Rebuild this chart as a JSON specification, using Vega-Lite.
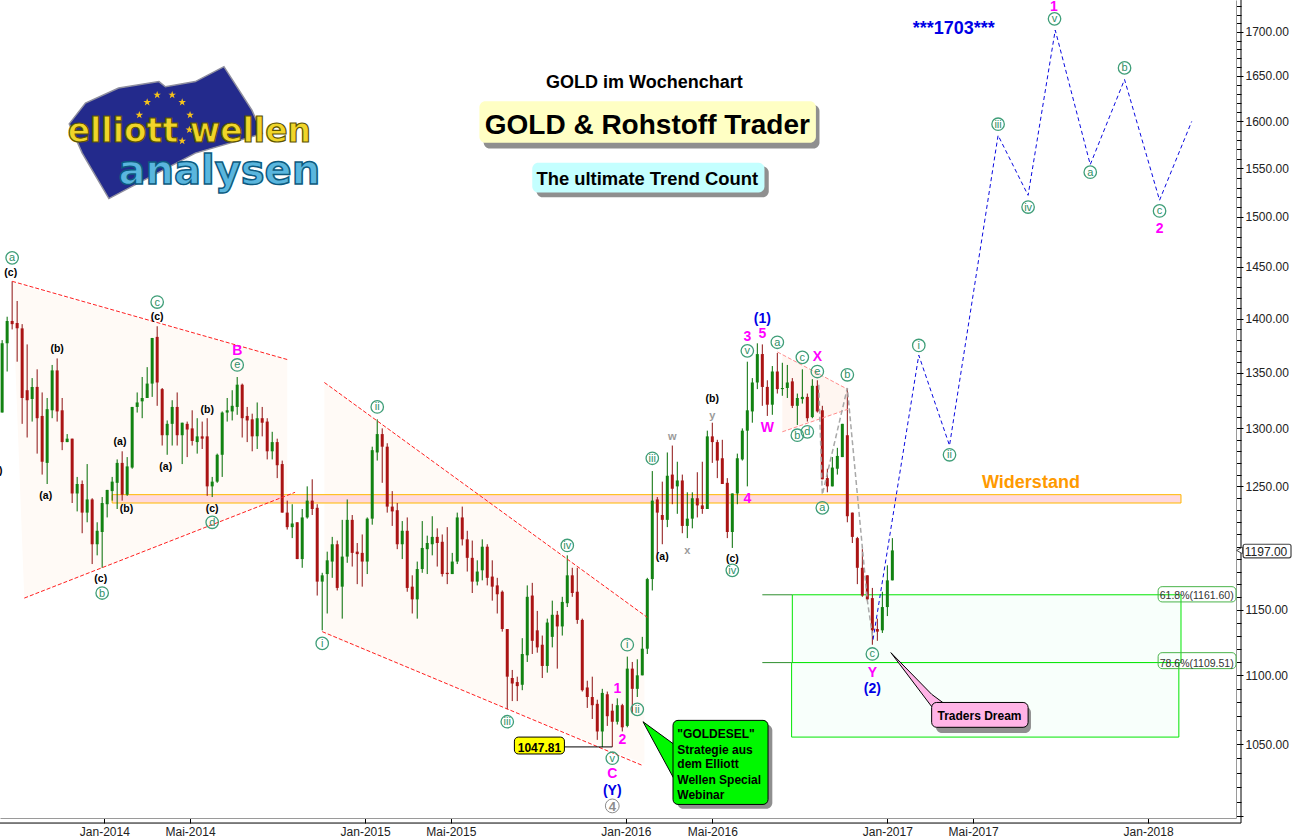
{"$schema":"https://vega.github.io/schema/vega-lite/v6.json","width":1236,"height":818,"autosize":{"type":"none"},"padding":{"left":0,"right":56,"top":0,"bottom":21},"background":"white","config":{"view":{"stroke":null},"font":"Liberation Sans","text":{"font":"Liberation Sans","align":"center","baseline":"middle","dy":1.5}},
"datasets":{"candles":[
{"d":"2013-08-11","o":1314,"h":1380,"l":1314,"c":1377},{"d":"2013-08-18","o":1377,"h":1402,"l":1351,"c":1398},{"d":"2013-08-25","o":1398,"h":1436,"l":1390,"c":1395},{"d":"2013-09-01","o":1396,"h":1417,"l":1360,"c":1391},{"d":"2013-09-08","o":1391,"h":1395,"l":1304,"c":1327},{"d":"2013-09-15","o":1334,"h":1376,"l":1292,"c":1325},{"d":"2013-09-22","o":1326,"h":1345,"l":1306,"c":1337},{"d":"2013-09-29","o":1337,"h":1353,"l":1278,"c":1309},{"d":"2013-10-06","o":1311,"h":1332,"l":1260,"c":1271},{"d":"2013-10-13","o":1270,"h":1327,"l":1252,"c":1317},{"d":"2013-10-20","o":1316,"h":1357,"l":1309,"c":1352},{"d":"2013-10-27","o":1352,"h":1363,"l":1306,"c":1315},{"d":"2013-11-03","o":1316,"h":1327,"l":1281,"c":1288},{"d":"2013-11-10","o":1288,"h":1295,"l":1288,"c":1291},{"d":"2013-11-17","o":1291,"h":1291,"l":1236,"c":1244},{"d":"2013-11-24","o":1244,"h":1258,"l":1229,"c":1252},{"d":"2013-12-01","o":1252,"h":1255,"l":1211,"c":1228},{"d":"2013-12-08","o":1228,"h":1269,"l":1220,"c":1239},{"d":"2013-12-15","o":1239,"h":1240,"l":1186,"c":1202},{"d":"2013-12-22","o":1202,"h":1220,"l":1193,"c":1213},{"d":"2013-12-29","o":1212,"h":1241,"l":1183,"c":1236},
{"d":"2014-01-05","o":1235,"h":1247,"l":1224,"c":1247},{"d":"2014-01-12","o":1246,"h":1258,"l":1238,"c":1254},{"d":"2014-01-19","o":1253,"h":1273,"l":1231,"c":1270},{"d":"2014-01-26","o":1270,"h":1280,"l":1238,"c":1243},{"d":"2014-02-02","o":1243,"h":1275,"l":1242,"c":1267},{"d":"2014-02-09","o":1266,"h":1319,"l":1265,"c":1319},{"d":"2014-02-16","o":1319,"h":1332,"l":1314,"c":1323},{"d":"2014-02-23","o":1324,"h":1346,"l":1309,"c":1327},{"d":"2014-03-02","o":1327,"h":1355,"l":1327,"c":1340},{"d":"2014-03-09","o":1340,"h":1382,"l":1328,"c":1382},{"d":"2014-03-16","o":1383,"h":1393,"l":1320,"c":1341},{"d":"2014-03-23","o":1335,"h":1336,"l":1285,"c":1294},{"d":"2014-03-30","o":1294,"h":1307,"l":1277,"c":1304},{"d":"2014-04-06","o":1304,"h":1325,"l":1285,"c":1319},{"d":"2014-04-13","o":1319,"h":1332,"l":1285,"c":1294},{"d":"2014-04-20","o":1294,"h":1305,"l":1269,"c":1305},{"d":"2014-04-27","o":1304,"h":1306,"l":1275,"c":1299},{"d":"2014-05-04","o":1300,"h":1316,"l":1285,"c":1289},{"d":"2014-05-11","o":1288,"h":1309,"l":1278,"c":1293},{"d":"2014-05-18","o":1293,"h":1306,"l":1282,"c":1291},{"d":"2014-05-25","o":1293,"h":1309,"l":1242,"c":1250},{"d":"2014-06-01","o":1250,"h":1258,"l":1241,"c":1254},{"d":"2014-06-08","o":1254,"h":1278,"l":1253,"c":1277},{"d":"2014-06-15","o":1277,"h":1315,"l":1258,"c":1314},{"d":"2014-06-22","o":1314,"h":1327,"l":1306,"c":1316},{"d":"2014-06-29","o":1315,"h":1334,"l":1307,"c":1320},{"d":"2014-07-06","o":1319,"h":1346,"l":1312,"c":1339},{"d":"2014-07-13","o":1339,"h":1340,"l":1292,"c":1309},{"d":"2014-07-20","o":1311,"h":1319,"l":1288,"c":1307},{"d":"2014-07-27","o":1308,"h":1313,"l":1280,"c":1293},{"d":"2014-08-03","o":1293,"h":1323,"l":1282,"c":1309},{"d":"2014-08-10","o":1309,"h":1319,"l":1293,"c":1305},{"d":"2014-08-17","o":1306,"h":1309,"l":1273,"c":1280},{"d":"2014-08-24","o":1280,"h":1297,"l":1273,"c":1288},{"d":"2014-08-31","o":1288,"h":1291,"l":1257,"c":1268},{"d":"2014-09-07","o":1269,"h":1272,"l":1228,"c":1228},{"d":"2014-09-14","o":1228,"h":1238,"l":1214,"c":1216},{"d":"2014-09-21","o":1216,"h":1235,"l":1207,"c":1219},{"d":"2014-09-28","o":1220,"h":1220,"l":1190,"c":1190},{"d":"2014-10-05","o":1190,"h":1231,"l":1183,"c":1224},{"d":"2014-10-12","o":1224,"h":1250,"l":1223,"c":1238},{"d":"2014-10-19","o":1238,"h":1256,"l":1226,"c":1231},{"d":"2014-10-26","o":1232,"h":1235,"l":1161,"c":1172},{"d":"2014-11-02","o":1172,"h":1179,"l":1134,"c":1177},{"d":"2014-11-09","o":1178,"h":1196,"l":1147,"c":1189},{"d":"2014-11-16","o":1188,"h":1208,"l":1175,"c":1202},{"d":"2014-11-23","o":1202,"h":1205,"l":1165,"c":1167},{"d":"2014-11-30","o":1168,"h":1222,"l":1143,"c":1192},{"d":"2014-12-07","o":1192,"h":1239,"l":1187,"c":1222},{"d":"2014-12-14","o":1222,"h":1226,"l":1184,"c":1195},{"d":"2014-12-21","o":1196,"h":1203,"l":1170,"c":1194},{"d":"2014-12-28","o":1195,"h":1210,"l":1168,"c":1188},
{"d":"2015-01-04","o":1188,"h":1224,"l":1178,"c":1223},{"d":"2015-01-11","o":1223,"h":1284,"l":1218,"c":1281},{"d":"2015-01-18","o":1279,"h":1308,"l":1272,"c":1295},{"d":"2015-01-25","o":1295,"h":1300,"l":1253,"c":1284},{"d":"2015-02-01","o":1284,"h":1287,"l":1228,"c":1233},{"d":"2015-02-08","o":1233,"h":1246,"l":1217,"c":1229},{"d":"2015-02-15","o":1230,"h":1236,"l":1198,"c":1202},{"d":"2015-02-22","o":1202,"h":1221,"l":1190,"c":1213},{"d":"2015-03-01","o":1213,"h":1224,"l":1164,"c":1167},{"d":"2015-03-08","o":1168,"h":1177,"l":1147,"c":1158},{"d":"2015-03-15","o":1158,"h":1188,"l":1143,"c":1182},{"d":"2015-03-22","o":1182,"h":1221,"l":1179,"c":1199},{"d":"2015-03-29","o":1198,"h":1209,"l":1178,"c":1203},{"d":"2015-04-05","o":1202,"h":1225,"l":1193,"c":1208},{"d":"2015-04-12","o":1208,"h":1215,"l":1184,"c":1203},{"d":"2015-04-19","o":1204,"h":1210,"l":1176,"c":1178},{"d":"2015-04-26","o":1179,"h":1216,"l":1170,"c":1178},{"d":"2015-05-03","o":1178,"h":1195,"l":1178,"c":1188},{"d":"2015-05-10","o":1188,"h":1228,"l":1186,"c":1224},{"d":"2015-05-17","o":1224,"h":1233,"l":1201,"c":1206},{"d":"2015-05-24","o":1206,"h":1213,"l":1180,"c":1191},{"d":"2015-05-31","o":1191,"h":1205,"l":1163,"c":1172},{"d":"2015-06-07","o":1172,"h":1189,"l":1169,"c":1180},{"d":"2015-06-14","o":1181,"h":1206,"l":1173,"c":1200},{"d":"2015-06-21","o":1200,"h":1202,"l":1169,"c":1175},{"d":"2015-06-28","o":1176,"h":1189,"l":1157,"c":1168},{"d":"2015-07-05","o":1169,"h":1175,"l":1147,"c":1162},{"d":"2015-07-12","o":1164,"h":1165,"l":1133,"c":1135},{"d":"2015-07-19","o":1135,"h":1135,"l":1075,"c":1099},{"d":"2015-07-26","o":1098,"h":1104,"l":1081,"c":1094},{"d":"2015-08-02","o":1095,"h":1099,"l":1081,"c":1092},{"d":"2015-08-09","o":1093,"h":1128,"l":1089,"c":1116},{"d":"2015-08-16","o":1115,"h":1169,"l":1110,"c":1160},{"d":"2015-08-23","o":1161,"h":1171,"l":1116,"c":1126},{"d":"2015-08-30","o":1134,"h":1149,"l":1117,"c":1121},{"d":"2015-09-06","o":1123,"h":1130,"l":1098,"c":1107},{"d":"2015-09-13","o":1107,"h":1143,"l":1102,"c":1140},{"d":"2015-09-20","o":1129,"h":1157,"l":1121,"c":1146},{"d":"2015-09-27","o":1146,"h":1149,"l":1105,"c":1137},{"d":"2015-10-04","o":1137,"h":1160,"l":1130,"c":1156},{"d":"2015-10-11","o":1155,"h":1193,"l":1152,"c":1177},{"d":"2015-10-18","o":1177,"h":1183,"l":1160,"c":1163},{"d":"2015-10-25","o":1164,"h":1183,"l":1139,"c":1142},{"d":"2015-11-01","o":1142,"h":1143,"l":1088,"c":1089},{"d":"2015-11-08","o":1091,"h":1096,"l":1076,"c":1084},{"d":"2015-11-15","o":1084,"h":1099,"l":1068,"c":1078},{"d":"2015-11-22","o":1079,"h":1082,"l":1053,"c":1059},{"d":"2015-11-29","o":1059,"h":1090,"l":1047.81,"c":1087},{"d":"2015-12-06","o":1086,"h":1088,"l":1063,"c":1070},{"d":"2015-12-13","o":1074,"h":1079,"l":1048,"c":1066},{"d":"2015-12-20","o":1066,"h":1083,"l":1064,"c":1078},{"d":"2015-12-27","o":1078,"h":1079,"l":1059,"c":1062},
{"d":"2016-01-03","o":1063,"h":1114,"l":1062,"c":1105},{"d":"2016-01-10","o":1105,"h":1110,"l":1072,"c":1090},{"d":"2016-01-17","o":1090,"h":1112,"l":1084,"c":1100},{"d":"2016-01-24","o":1100,"h":1129,"l":1100,"c":1120},{"d":"2016-01-31","o":1120,"h":1175,"l":1116,"c":1174},{"d":"2016-02-07","o":1174,"h":1263,"l":1165,"c":1238},{"d":"2016-02-14","o":1239,"h":1241,"l":1194,"c":1228},{"d":"2016-02-21","o":1226,"h":1254,"l":1202,"c":1222},{"d":"2016-02-28","o":1222,"h":1279,"l":1216,"c":1259},{"d":"2016-03-06","o":1260,"h":1285,"l":1235,"c":1248},{"d":"2016-03-13","o":1250,"h":1271,"l":1227,"c":1255},{"d":"2016-03-20","o":1255,"h":1260,"l":1211,"c":1217},{"d":"2016-03-27","o":1217,"h":1245,"l":1207,"c":1223},{"d":"2016-04-03","o":1223,"h":1245,"l":1215,"c":1240},{"d":"2016-04-10","o":1240,"h":1262,"l":1224,"c":1234},{"d":"2016-04-17","o":1234,"h":1271,"l":1227,"c":1231},{"d":"2016-04-24","o":1231,"h":1298,"l":1231,"c":1293},{"d":"2016-05-01","o":1293,"h":1305,"l":1270,"c":1288},{"d":"2016-05-08","o":1288,"h":1290,"l":1257,"c":1272},{"d":"2016-05-15","o":1274,"h":1290,"l":1252,"c":1252},{"d":"2016-05-22","o":1253,"h":1257,"l":1207,"c":1212},{"d":"2016-05-29","o":1212,"h":1244,"l":1199,"c":1244},{"d":"2016-06-05","o":1244,"h":1278,"l":1235,"c":1274},{"d":"2016-06-12","o":1273,"h":1300,"l":1272,"c":1298},{"d":"2016-06-19","o":1298,"h":1360,"l":1250,"c":1316},{"d":"2016-06-26","o":1315,"h":1345,"l":1305,"c":1341},{"d":"2016-07-03","o":1341,"h":1377,"l":1335,"c":1367},{"d":"2016-07-10","o":1367,"h":1376,"l":1320,"c":1337},{"d":"2016-07-17","o":1337,"h":1343,"l":1311,"c":1321},{"d":"2016-07-24","o":1321,"h":1356,"l":1312,"c":1351},{"d":"2016-07-31","o":1351,"h":1368,"l":1331,"c":1335},{"d":"2016-08-07","o":1335,"h":1359,"l":1329,"c":1336},{"d":"2016-08-14","o":1336,"h":1357,"l":1327,"c":1341},{"d":"2016-08-21","o":1342,"h":1345,"l":1318,"c":1320},{"d":"2016-08-28","o":1320,"h":1331,"l":1303,"c":1327},{"d":"2016-09-04","o":1326,"h":1353,"l":1322,"c":1328},{"d":"2016-09-11","o":1328,"h":1331,"l":1306,"c":1309},{"d":"2016-09-18","o":1310,"h":1344,"l":1309,"c":1338},{"d":"2016-09-25","o":1338,"h":1343,"l":1314,"c":1315},{"d":"2016-10-02","o":1316,"h":1320,"l":1256,"c":1256},{"d":"2016-10-09","o":1257,"h":1265,"l":1245,"c":1250},{"d":"2016-10-16","o":1250,"h":1275,"l":1250,"c":1266},{"d":"2016-10-23","o":1265,"h":1283,"l":1260,"c":1276},{"d":"2016-10-30","o":1275,"h":1304,"l":1275,"c":1304},{"d":"2016-11-06","o":1294,"h":1336,"l":1220,"c":1225},{"d":"2016-11-13","o":1228,"h":1228,"l":1203,"c":1208},{"d":"2016-11-20","o":1207,"h":1208,"l":1170,"c":1183},{"d":"2016-11-27","o":1183,"h":1198,"l":1160,"c":1161},{"d":"2016-12-04","o":1177,"h":1177,"l":1157,"c":1158},{"d":"2016-12-11","o":1159,"h":1167,"l":1123,"c":1134},{"d":"2016-12-18","o":1135,"h":1143,"l":1126,"c":1133},{"d":"2016-12-25","o":1134,"h":1164,"l":1132,"c":1152},{"d":"2017-01-01","o":1152,"h":1185,"l":1145,"c":1173},{"d":"2017-01-08","o":1173,"h":1207,"l":1173,"c":1197}
],
"circled":[{"d":"2013-08-25","p":1459,"t":"a"},{"d":"2014-03-16","p":1416,"t":"c"},{"d":"2014-07-06","p":1357,"t":"e"},{"d":"2013-12-29","p":1163,"t":"b"},{"d":"2014-06-01","p":1220,"t":"d"},{"d":"2015-01-18","p":1319,"t":"ii"},{"d":"2014-11-02","p":1124,"t":"i"},{"d":"2015-07-19","p":1066,"t":"iii"},{"d":"2015-10-11","p":1201,"t":"iv"},{"d":"2015-12-13","p":1040,"t":"v"},{"d":"2016-01-03","p":1123,"t":"i"},{"d":"2016-01-17","p":1075,"t":"ii"},{"d":"2016-02-07","p":1274,"t":"iii"},{"d":"2016-05-29","p":1181,"t":"iv"},{"d":"2016-06-19","p":1370,"t":"v"},{"d":"2016-07-31","p":1378,"t":"a"},{"d":"2016-09-04","p":1364,"t":"c"},{"d":"2016-09-25","p":1351,"t":"e"},{"d":"2016-08-28","p":1294,"t":"b"},{"d":"2016-09-11","p":1297,"t":"d"},{"d":"2016-11-06","p":1348,"t":"b"},{"d":"2016-10-02","p":1232,"t":"a"},{"d":"2016-12-11","p":1116,"t":"c"},{"d":"2017-02-14","p":1375,"t":"i"},{"d":"2017-03-29","p":1277,"t":"ii"},{"d":"2017-06-05","p":1597,"t":"iii"},{"d":"2017-07-17","p":1510,"t":"iv"},{"d":"2017-08-23","p":1715,"t":"v"},{"d":"2017-10-12","p":1546,"t":"a"},{"d":"2017-11-29","p":1659,"t":"b"},{"d":"2018-01-17","p":1506,"t":"c"}]},
"encoding":{"x":{"field":"d","type":"temporal","title":null,"scale":{"domain":["2013-08-08","2018-05-04"],"nice":false,"padding":0},"axis":{"orient":"bottom","grid":false,"title":null,"values":["2014-01-01","2014-05-01","2015-01-01","2015-05-01","2016-01-01","2016-05-01","2017-01-01","2017-05-01","2018-01-01"],"labelExpr":"(timeFormat(datum.value,'%m')=='05'?'Mai':'Jan')+'-'+timeFormat(datum.value,'%Y')","tickSize":5,"tickColor":"#000","domainColor":"#9a9a9a","labelFontSize":12,"labelFont":"Liberation Sans","labelColor":"#222","labelPadding":3,"labelOverlap":false,"labelFlush":false}},"y":{"field":"p","type":"quantitative","title":null,"scale":{"type":"log","domain":[998.8,1737],"nice":false,"padding":0},"axis":{"orient":"right","grid":false,"title":null,"values":[1000,1010,1020,1030,1040,1050,1060,1070,1080,1090,1100,1110,1120,1130,1140,1150,1160,1170,1180,1190,1200,1210,1220,1230,1240,1250,1260,1270,1280,1290,1300,1310,1320,1330,1340,1350,1360,1370,1380,1390,1400,1410,1420,1430,1440,1450,1460,1470,1480,1490,1500,1510,1520,1530,1540,1550,1560,1570,1580,1590,1600,1610,1620,1630,1640,1650,1660,1670,1680,1690,1700,1710,1720,1730],"labelExpr":"datum.value%50==0&&datum.value!=1200&&datum.value!=1000?format(datum.value,'.2f'):''","tickSize":{"condition":{"test":"datum.value%50==0","value":7},"value":5},"tickColor":"#000","domainColor":"#9a9a9a","labelFontSize":12,"labelFont":"Liberation Sans","labelColor":"#222","labelPadding":2,"labelOverlap":false,"labelFlush":false,"labelBound":false}}},
"layer":[
{"data":{"values":[{"d":"2013-08-25","p":1436,"p2":1436},{"d":"2013-09-11","p":1431,"p2":1159},{"d":"2014-09-14","p":1362,"p2":1242}]},"mark":{"type":"area","color":"#fffaf6","opacity":1},"encoding":{"y2":{"field":"p2"}}},
{"data":{"values":[{"d":"2014-11-05","p":1341,"p2":1131},{"d":"2016-01-27","p":1146,"p2":1036}]},"mark":{"type":"area","color":"#fffaf6","opacity":1},"encoding":{"y2":{"field":"p2"}}},
{"data":{"values":[{"d":"2016-08-07","p":1366,"p2":1297},{"d":"2016-11-06","p":1335,"p2":1317}]},"mark":{"type":"area","color":"#fff6f1","opacity":1},"encoding":{"y2":{"field":"p2"}}},
{"data":{"values":[{"d":"2016-08-21","d2":"2018-02-16","p":1161.6,"p2":1109.51},{"d":"2016-08-20","d2":"2018-02-13","p":1109.51,"p2":1055}]},"mark":{"type":"rect","fill":"#f8fffb","stroke":"#00e600","strokeWidth":1},"encoding":{"x2":{"field":"d2"},"y2":{"field":"p2"}}},
{"data":{"values":[{"d":"2016-07-10","d2":"2016-08-21","p":1161.6},{"d":"2016-07-10","d2":"2016-08-20","p":1109.51}]},"mark":{"type":"rule","color":"#2f8f2f","strokeWidth":1},"encoding":{"x2":{"field":"d2"}}},
{"data":{"values":[{"d":"2014-01-12","d2":"2018-02-16","p":1243,"p2":1236}]},"mark":{"type":"rect","fill":"#ffd9de","stroke":"#ffb800","strokeWidth":1},"encoding":{"x2":{"field":"d2"},"y2":{"field":"p2"}}},
{"data":{"name":"candles"},"mark":{"type":"rule","strokeWidth":1},"encoding":{"y":{"field":"h","type":"quantitative"},"y2":{"field":"l"},"color":{"condition":{"test":"datum.c>=datum.o","value":"#006b00"},"value":"#8c1010"}}},
{"data":{"name":"candles"},"mark":{"type":"bar","size":3},"encoding":{"y":{"field":"o","type":"quantitative"},"y2":{"field":"c"},"color":{"condition":{"test":"datum.c>=datum.o","value":"#128212"},"value":"#aa1414"}}},
{"data":{"values":[{"g":"w1t","d":"2013-08-25","p":1436},{"g":"w1t","d":"2014-09-14","p":1362},{"g":"w1b","d":"2013-09-11","p":1159},{"g":"w1b","d":"2014-09-25","p":1245},{"g":"w2t","d":"2014-11-05","p":1341},{"g":"w2t","d":"2016-01-31","p":1144},{"g":"w2b","d":"2014-11-02","p":1133},{"g":"w2b","d":"2016-01-24","p":1035}]},"mark":{"type":"line","color":"#ff1f1f","strokeWidth":1,"strokeDash":[4,2]},"encoding":{"detail":{"field":"g"}}},
{"data":{"values":[{"g":"w3t","d":"2016-07-31","p":1369},{"g":"w3t","d":"2016-11-06","p":1335},{"g":"w3b","d":"2016-08-07","p":1297},{"g":"w3b","d":"2016-11-07","p":1317}]},"mark":{"type":"line","color":"#ff8c8c","strokeWidth":1,"strokeDash":[4,2]},"encoding":{"detail":{"field":"g"}}},
{"data":{"values":[{"d":"2016-09-27","p":1339},{"d":"2016-10-02","p":1243},{"d":"2016-11-06","p":1336},{"d":"2016-12-04","p":1157},{"d":"2016-12-12","p":1127}]},"mark":{"type":"line","color":"#a8a8a8","strokeWidth":1.5,"strokeDash":[5,3]}},
{"data":{"values":[{"d":"2016-12-12","p":1127},{"d":"2017-02-14","p":1366},{"d":"2017-03-29","p":1285},{"d":"2017-06-05","p":1585},{"d":"2017-07-17","p":1522},{"d":"2017-08-24","p":1702},{"d":"2017-10-12","p":1554},{"d":"2017-11-29","p":1646},{"d":"2018-01-17","p":1517},{"d":"2018-03-03","p":1600}]},"mark":{"type":"line","color":"#0a0ae0","strokeWidth":1,"strokeDash":[4,3]}},
{"data":{"values":[{"d":"2018-05-11","p":1737,"p2":995.4}]},"mark":{"type":"rule","color":"#000","strokeWidth":1},"encoding":{"y2":{"field":"p2"}}},
{"data":{"values":[{"d":"2013-08-08","d2":"2018-05-11","p":995.4}]},"mark":{"type":"rule","color":"#000","strokeWidth":1},"encoding":{"x2":{"field":"d2"}}},
{"data":{"values":[{"d":"2014-03-23","p":1589}]},"mark":{"type":"point","filled":true,"fill":"#232a8c","stroke":"#8f8f9f","strokeWidth":1.5,"opacity":1,"size":16900,"shape":"M-1.43,-0.12 L-1.18,-0.44 L-0.67,-0.67 L-0.05,-0.77 L0.05,-0.69 L0.51,-0.77 L0.95,-1 L1.38,-0.33 L1.54,0.03 L0.51,0.33 L-0.82,1.03 L-1.23,0.33 Z"}},
{"data":{"values":[{"d":"2014-03-02","p":1621},{"d":"2014-03-16","p":1629},{"d":"2014-04-06","p":1629},{"d":"2014-04-20","p":1621},{"d":"2014-05-01","p":1607},{"d":"2014-04-30","p":1591},{"d":"2014-04-20","p":1579},{"d":"2014-02-19","p":1607}]},"mark":{"type":"point","filled":true,"fill":"#f5c21b","opacity":1,"size":64,"shape":"M0,-1 L0.24,-0.31 L0.95,-0.31 L0.38,0.12 L0.59,0.81 L0,0.4 L-0.59,0.81 L-0.38,0.12 L-0.95,-0.31 L-0.24,-0.31 Z"}},
{"data":{"values":[{"d":"2014-04-30","p":1590,"t":"elliott wellen"}]},"mark":{"type":"text","font":"DejaVu Sans","fontWeight":"bold","fontSize":33,"fill":"#f0d52a","stroke":"#5f5500","strokeWidth":1.2},"encoding":{"text":{"field":"t"}}},
{"data":{"values":[{"d":"2014-06-11","p":1548,"t":"analysen"}]},"mark":{"type":"text","font":"DejaVu Sans","fontWeight":"bold","fontSize":40,"fill":"#5ab6de","stroke":"#0c5a80","strokeWidth":1.5},"encoding":{"text":{"field":"t"}}},
{"data":{"values":[{"d":"2015-06-16","d2":"2016-09-28","p":1618,"p2":1571},{"d":"2015-08-29","d2":"2016-07-19","p":1552,"p2":1520},{"d":"2016-03-13","d2":"2016-07-24","p":1064,"p2":1005},{"d":"2017-03-10","d2":"2017-07-21","p":1077,"p2":1058}]},"mark":{"type":"rect","fill":"#8f8f8f","cornerRadius":6},"encoding":{"x2":{"field":"d2"},"y2":{"field":"p2"}}},
{"data":{"values":[{"d":"2015-06-10","d2":"2016-09-23","p":1622,"p2":1577}]},"mark":{"type":"rect","fill":"#ffffc4","cornerRadius":6},"encoding":{"x2":{"field":"d2"},"y2":{"field":"p2"}}},
{"data":{"values":[{"d":"2015-08-23","d2":"2016-07-13","p":1556,"p2":1525}]},"mark":{"type":"rect","fill":"#c4ffff","cornerRadius":6},"encoding":{"x2":{"field":"d2"},"y2":{"field":"p2"}}},
{"data":{"values":[{"d":"2016-01-25","p":1066,"p2":1066},{"d":"2016-03-08","p":1050,"p2":1026}]},"mark":{"type":"area","color":"#00f800","opacity":1,"stroke":"#000","strokeWidth":1},"encoding":{"y2":{"field":"p2"}}},
{"data":{"values":[{"d":"2016-03-07","d2":"2016-07-18","p":1067,"p2":1008}]},"mark":{"type":"rect","fill":"#00f800","stroke":"#000","strokeWidth":1,"cornerRadius":5},"encoding":{"x2":{"field":"d2"},"y2":{"field":"p2"}}},
{"data":{"values":[{"d":"2017-01-06","p":1117,"p2":1117},{"d":"2017-03-04","p":1086,"p2":1077},{"d":"2017-03-22","p":1079,"p2":1079}]},"mark":{"type":"area","color":"#ffb4e6","opacity":1,"stroke":"#000","strokeWidth":1},"encoding":{"y2":{"field":"p2"}}},
{"data":{"values":[{"d":"2017-03-04","d2":"2017-07-17","p":1080,"p2":1062}]},"mark":{"type":"rect","fill":"#ffb4e6","stroke":"#000","strokeWidth":1,"cornerRadius":5},"encoding":{"x2":{"field":"d2"},"y2":{"field":"p2"}}},
{"data":{"values":[{"d":"2015-10-07","d2":"2015-12-13","p":1048}]},"mark":{"type":"rule","color":"#000","strokeWidth":1},"encoding":{"x2":{"field":"d2"}}},
{"data":{"values":[{"d":"2015-07-29","d2":"2015-10-07","p":1055,"p2":1043}]},"mark":{"type":"rect","fill":"#ffff00","stroke":"#000","strokeWidth":1,"cornerRadius":4},"encoding":{"x2":{"field":"d2"},"y2":{"field":"p2"}}},
{"data":{"values":[{"d":"2015-09-02","p":1048.5,"t":"1047.81"}]},"mark":{"type":"text","fontWeight":"bold","fontSize":12,"color":"#000"},"encoding":{"text":{"field":"t"}}},
{"data":{"values":[{"d":"2018-01-15","d2":"2018-05-04","p":1168,"p2":1156},{"d":"2018-01-15","d2":"2018-05-04","p":1117,"p2":1105}]},"mark":{"type":"rect","fillOpacity":0,"stroke":"#4ab34a","strokeWidth":1,"cornerRadius":4},"encoding":{"x2":{"field":"d2"},"y2":{"field":"p2"}}},
{"data":{"values":[{"d":"2018-03-10","p":1161.6,"t":"61.8%(1161.60)"},{"d":"2018-03-10","p":1109.51,"t":"78.6%(1109.51)"}]},"mark":{"type":"text","fontSize":10.5,"color":"#333"},"encoding":{"text":{"field":"t"}}},
{"data":{"values":[{"d":"2018-05-14","d2":"2018-07-20","p":1202,"p2":1191}]},"mark":{"type":"rect","fill":"#fff","stroke":"#444","strokeWidth":1.2,"cornerRadius":2},"encoding":{"x2":{"field":"d2"},"y2":{"field":"p2"}}},
{"data":{"values":[{"d":"2018-05-09","p":1197}]},"mark":{"type":"point","shape":"triangle-left","filled":true,"fill":"#fff","stroke":"#444","strokeWidth":1,"opacity":1,"size":45}},
{"data":{"values":[{"d":"2018-06-15","p":1197,"t":"1197.00"}]},"mark":{"type":"text","fontSize":12,"color":"#222"},"encoding":{"text":{"field":"t"}}},
{"data":{"values":[{"d":"2013-08-23","p":1446,"t":"(c)"},{"d":"2013-10-27","p":1373,"t":"(b)"},{"d":"2013-10-11","p":1243,"t":"(a)"},{"d":"2013-12-27","p":1175,"t":"(c)"},{"d":"2014-01-23","p":1289,"t":"(a)"},{"d":"2014-02-01","p":1232,"t":"(b)"},{"d":"2014-03-16","p":1403,"t":"(c)"},{"d":"2014-03-28","p":1268,"t":"(a)"},{"d":"2014-05-25","p":1318,"t":"(b)"},{"d":"2014-06-01","p":1232,"t":"(c)"},{"d":"2016-05-01","p":1327,"t":"(b)"},{"d":"2016-02-21","p":1193,"t":"(a)"},{"d":"2016-05-29","p":1191,"t":"(c)"},{"d":"2013-08-09","p":1264,"t":")"}]},"mark":{"type":"text","fontWeight":"bold","fontSize":10.5,"color":"#000"},"encoding":{"text":{"field":"t"}}},
{"data":{"values":[{"d":"2016-03-06","p":1294,"t":"w"},{"d":"2016-03-27","p":1198,"t":"x"},{"d":"2016-05-01","p":1312,"t":"y"}]},"mark":{"type":"text","fontWeight":"bold","fontSize":11,"color":"#9a9a9a"},"encoding":{"text":{"field":"t"}}},
{"data":{"values":[{"d":"2014-07-06","p":1371,"t":"B"},{"d":"2015-12-20","p":1091,"t":"1"},{"d":"2015-12-27","p":1054,"t":"2"},{"d":"2015-12-13","p":1030,"t":"C"},{"d":"2016-06-19","p":1384,"t":"3"},{"d":"2016-07-10","p":1387,"t":"5"},{"d":"2016-07-17","p":1302,"t":"W"},{"d":"2016-09-25","p":1366,"t":"X"},{"d":"2016-06-19","p":1241,"t":"4"},{"d":"2016-12-11","p":1103,"t":"Y"},{"d":"2018-01-17","p":1489,"t":"2"},{"d":"2017-08-22","p":1731,"t":"1"}]},"mark":{"type":"text","fontWeight":"bold","fontSize":14,"color":"#ff00ff"},"encoding":{"text":{"field":"t"}}},
{"data":{"values":[{"d":"2016-07-10","p":1401,"t":"(1)"},{"d":"2015-12-13","p":1018,"t":"(Y)"},{"d":"2016-12-11","p":1091,"t":"(2)"}]},"mark":{"type":"text","fontWeight":"bold","fontSize":14,"color":"#0000e6"},"encoding":{"text":{"field":"t"}}},
{"data":{"values":[{"d":"2017-04-04","p":1705,"t":"***1703***"}]},"mark":{"type":"text","fontWeight":"bold","fontSize":18,"color":"#0000e6"},"encoding":{"text":{"field":"t"}}},
{"data":{"name":"circled"},"mark":{"type":"point","stroke":"#3f9e78","strokeWidth":1.3,"fillOpacity":0,"opacity":1,"size":155,"shape":"circle"}},
{"data":{"name":"circled"},"mark":{"type":"text","fontSize":11,"color":"#2f8f68","font":"Liberation Sans","dy":0.5},"encoding":{"text":{"field":"t"}}},
{"data":{"values":[{"d":"2015-12-13","p":1007,"t":"4"}]},"mark":{"type":"point","stroke":"#8c8c8c","strokeWidth":1,"fill":"#fff","fillOpacity":1,"opacity":1,"size":190,"shape":"circle"}},
{"data":{"values":[{"d":"2015-12-13","p":1007,"t":"4"}]},"mark":{"type":"text","fontWeight":"bold","fontSize":13,"color":"#8c8c8c"},"encoding":{"text":{"field":"t"}}},
{"data":{"values":[{"d":"2017-07-21","p":1254,"t":"Widerstand"}]},"mark":{"type":"text","fontWeight":"bold","fontSize":18,"color":"#ff9a00"},"encoding":{"text":{"field":"t"}}},
{"data":{"values":[{"d":"2016-01-27","p":1644,"t":"GOLD im Wochenchart"}]},"mark":{"type":"text","fontWeight":"bold","fontSize":18,"color":"#000"},"encoding":{"text":{"field":"t"}}},
{"data":{"values":[{"d":"2016-01-31","p":1597,"t":"GOLD & Rohstoff Trader"}]},"mark":{"type":"text","fontWeight":"bold","fontSize":28,"color":"#000"},"encoding":{"text":{"field":"t"}}},
{"data":{"values":[{"d":"2016-01-31","p":1540,"t":"The ultimate Trend Count"}]},"mark":{"type":"text","fontWeight":"bold","fontSize":18.4,"color":"#000"},"encoding":{"text":{"field":"t"}}},
{"data":{"values":[{"d":"2017-05-10","p":1071,"t":"Traders Dream"}]},"mark":{"type":"text","fontWeight":"bold","fontSize":12,"color":"#000"},"encoding":{"text":{"field":"t"}}},
{"data":{"values":[{"d":"2016-03-13","p":1058,"t":"\"GOLDESEL\""},{"d":"2016-03-13","p":1047,"t":"Strategie aus"},{"d":"2016-03-13","p":1036.7,"t":"dem Elliott"},{"d":"2016-03-13","p":1026,"t":"Wellen Special"},{"d":"2016-03-13","p":1015.5,"t":"Webinar"}]},"mark":{"type":"text","fontWeight":"bold","fontSize":12,"color":"#000","align":"left"},"encoding":{"text":{"field":"t"}}}
]}
